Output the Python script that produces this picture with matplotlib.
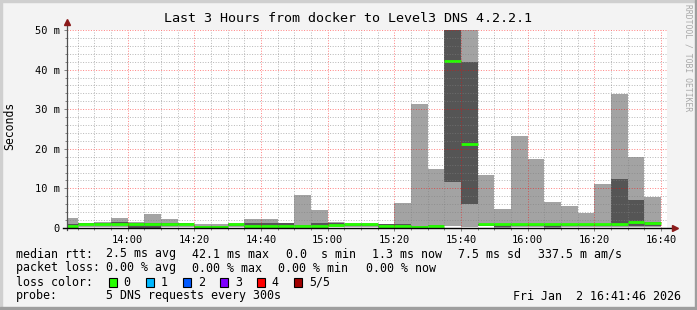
import matplotlib
matplotlib.use("Agg")
import matplotlib.pyplot as plt
from matplotlib.patches import Rectangle
from matplotlib.ticker import FixedLocator, MultipleLocator, FuncFormatter

# 5 minute steps starting at 13:40 (minutes since midnight)
step_start = 13 * 60 + 40
step_len = 5

# sorted pings per step (ms): min, 2nd, median, 4th, max
ping_min = [0.1, 0.2, 0.2, 0.2, 0.0, 0.0, 0.3, 0.3, 0.1, 0.0, 0.3, 0.1,
            0.1, 0.1, 0.2, 0.1, 0.2, 0.3, 0.3, 0.1, 0.1, 0.1, 0.2, 0.5,
            0.3, 0.4, 0.1, 0.3, 0.3, 0.1, 0.3, 0.3, 0.3, 0.3, 0.3, 0.2]
ping_2nd = [0.3, 0.8, 0.9, 0.9, 0.1, 0.1, 0.6, 0.7, 0.2, 0.1, 0.6, 0.3,
            0.3, 0.3, 0.4, 0.4, 0.5, 0.6, 0.6, 0.3, 0.3, 0.2, 0.4, 11.7,
            6.1, 0.6, 0.3, 0.6, 0.6, 0.3, 0.6, 0.6, 0.6, 0.5, 0.5, 0.5]
median = [0.5, 1.1, 1.1, 1.1, 1.1, 1.1, 1.1, 1.1, 0.35, 0.35, 1.0, 0.4,
          0.4, 0.4, 0.6, 0.6, 0.7, 1.0, 1.0, 0.5, 0.5, 0.3, 0.6, 42.1,
          21.2, 1.0, 1.0, 1.0, 1.0, 1.0, 1.0, 1.0, 1.0, 1.0, 1.5, 1.3]
ping_4th = [1.0, 1.2, 1.3, 1.5, 1.3, 1.3, 1.3, 1.2, 0.6, 0.5, 1.1, 1.2,
            1.2, 1.2, 0.8, 1.2, 1.2, 1.1, 1.1, 1.0, 1.0, 0.5, 0.7, 60.0,
            42.0, 1.1, 1.1, 1.1, 1.1, 1.1, 1.1, 1.1, 1.1, 12.4, 7.1, 1.5]
ping_max = [2.5, 1.3, 1.6, 2.5, 1.6, 3.5, 2.3, 1.3, 1.0, 0.9, 1.2, 2.3,
            2.3, 1.3, 8.4, 4.5, 1.5, 1.2, 1.2, 1.1, 6.4, 31.3, 14.9, 70.0,
            60.0, 13.5, 4.8, 23.3, 17.4, 6.6, 5.6, 3.8, 11.1, 33.8, 17.9, 7.8]

x_start = 13 * 60 + 41 + 46 / 60
x_end = 16 * 60 + 41 + 46 / 60

title = "Last 3 Hours from docker to Level3 DNS 4.2.2.1"
y_label = "Seconds"
loss_labels = ["0", "1", "2", "3", "4", "5/5"]
loss_colors = ["#26ff00", "#00b8ff", "#0059ff", "#7e00ff", "#ff0000", "#a10000"]
rtt_items = [(16, "median rtt:"), (107, "2.5 ms avg"), (193, "42.1 ms max"),
             (286, "0.0  s min"), (372, "1.3 ms now"), (458, "7.5 ms sd"),
             (538, "337.5 m am/s")]
loss_items = [(16, "packet loss:"), (107, "0.00 % avg"), (193, "0.00 % max"),
              (279, "0.00 % min"), (366, "0.00 % now")]
probe_items = [(16, "probe:"), (107, "5 DNS requests every 300s")]
stamp = "Fri Jan  2 16:41:46 2026"

W, H = 697, 310
mono = "DejaVu Sans Mono"
plt.rcParams["font.family"] = mono

fig = plt.figure(figsize=(W / 100, H / 100), dpi=100)
fig.patch.set_facecolor("#f3f3f3")

# 3d frame like rrdtool
fig.patches.append(Rectangle((0, 1 - 2 / H), 1, 2 / H, transform=fig.transFigure, color="#cfcfcf", zorder=0))
fig.patches.append(Rectangle((0, 0), 2 / W, 1, transform=fig.transFigure, color="#cfcfcf", zorder=0))
fig.patches.append(Rectangle((0, 0), 1, 3 / H, transform=fig.transFigure, color="#9e9e9e", zorder=0))
fig.patches.append(Rectangle((1 - 2 / W, 0), 2 / W, 1, transform=fig.transFigure, color="#9e9e9e", zorder=0))

ax = fig.add_axes([67 / W, 82 / H, 600 / W, 198 / H])
ax.set_facecolor("white")

starts = [step_start + step_len * i for i in range(len(median))]

# smoke
ax.bar(starts, [b - a for a, b in zip(ping_min, ping_max)], bottom=ping_min,
       width=step_len, align="edge", color="#a3a3a3", linewidth=0, zorder=1)
ax.bar(starts, [b - a for a, b in zip(ping_2nd, ping_4th)], bottom=ping_2nd,
       width=step_len, align="edge", color="#555555", linewidth=0, zorder=1.2)
# median
ax.hlines(median, starts, [s + step_len for s in starts], colors=loss_colors[0],
          linewidth=2.0, zorder=2)

ax.set_xlim(x_start, x_end)
ax.set_ylim(0, 50)

ax.xaxis.set_major_locator(FixedLocator(list(range(840, 1001, 20))))
ax.xaxis.set_minor_locator(FixedLocator(list(range(825, 1001, 5))))
ax.xaxis.set_major_formatter(FuncFormatter(lambda v, p: "%d:%02d" % (v // 60, v % 60)))
ax.yaxis.set_major_locator(MultipleLocator(10))
ax.yaxis.set_minor_locator(MultipleLocator(2))
ax.yaxis.set_major_formatter(FuncFormatter(lambda v, p: "0" if v == 0 else "%d m" % v))

ax.set_axisbelow(False)
ax.grid(which="minor", color="#808080", alpha=0.55, linestyle=(0, (1, 1.6)), linewidth=0.72)
ax.grid(which="major", color="#ff0000", alpha=0.48, linestyle=(0, (1, 1.6)), linewidth=0.72)

for s in ax.spines.values():
    s.set_visible(False)
ax.tick_params(which="both", length=2, width=0.6, color="#707070", direction="out",
               labelsize=7.5, labelcolor="#000000", pad=3)
ax.tick_params(which="minor", length=1.5)

# axis lines with arrows
ax.plot([0, 0], [-0.01, 1.035], transform=ax.transAxes, color="#505050", lw=0.9, clip_on=False, zorder=5)
ax.plot([-0.007, 1.01], [0, 0], transform=ax.transAxes, color="#000000", lw=1.0, clip_on=False, zorder=5)
ax.plot([0], [1.04], marker="^", ms=5, color="#8b1a1a", transform=ax.transAxes, clip_on=False, zorder=6)
ax.plot([1.013], [0], marker=">", ms=5, color="#8b1a1a", transform=ax.transAxes, clip_on=False, zorder=6)

def px(x, y):
    return x / W, 1 - y / H

fig.text(*px(348, 19), title, ha="center", va="center", fontsize=9.6)
fig.text(*px(10, 126), y_label, ha="center", va="center", rotation=90, fontsize=8.3)
fig.text(*px(688, 58), "RRDTOOL / TOBI OETIKER", ha="center", va="center", rotation=270,
         fontsize=5.8, color="#a8a8a8")

fs = 8.35
for x, t in rtt_items:
    fig.text(*px(x - 0.5, 254), t, ha="left", va="center", fontsize=fs)
for x, t in loss_items:
    fig.text(*px(x - 0.5, 268), t, ha="left", va="center", fontsize=fs)
fig.text(*px(15.5, 282), "loss color:", ha="left", va="center", fontsize=fs)
for k, (lab, col) in enumerate(zip(loss_labels, loss_colors)):
    bx = 108.5 + 37.1 * k
    fig.patches.append(Rectangle(((bx) / W, 1 - 286.5 / H), 8 / W, 9 / H, transform=fig.transFigure,
                                 facecolor=col, edgecolor="black", linewidth=0.8))
    fig.text(*px(bx + 15, 282), lab, ha="left", va="center", fontsize=fs)
for x, t in probe_items:
    fig.text(*px(x - 0.5, 296), t, ha="left", va="center", fontsize=fs)
fig.text(*px(681, 296), stamp, ha="right", va="center", fontsize=fs)

fig.savefig("out.png", dpi=100, facecolor=fig.get_facecolor())
